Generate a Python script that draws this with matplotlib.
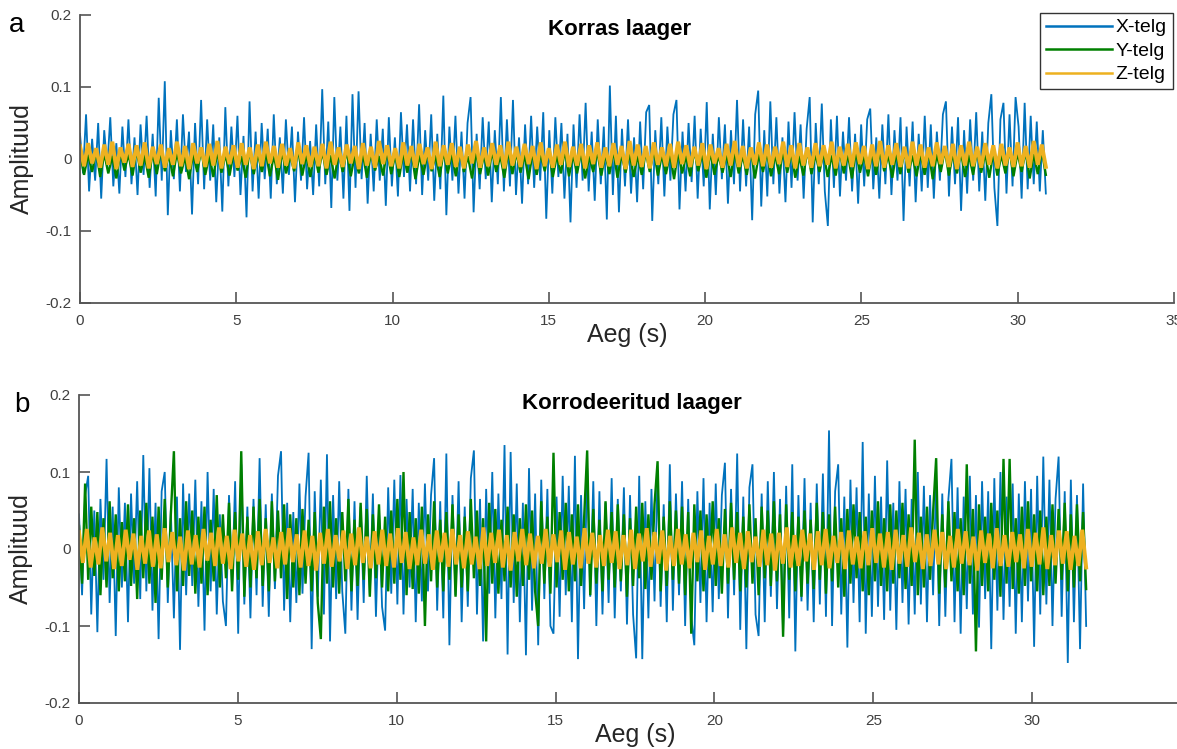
import numpy as np
import matplotlib
matplotlib.use("Agg")
import matplotlib.pyplot as plt
from matplotlib.lines import Line2D

plt.rcParams["font.family"] = ["Liberation Sans", "DejaVu Sans"]

# amplitudes, in thousandths
top_x = [
    35, -20, 62, -45, 28, -30, 50, -55, 40, -12, 58, -38, 22, -48, 45, -25, 55, -35, 30, -50,
    48, -22, 60, -40, 35, -52, 85, -30, 108, -78, 40, -28, 55, -45, 62, -18, 38, -77, 50, -35,
    82, -42, 55, -30, 48, -60, 30, -73, 72, -38, 45, -25, 60, -50, 32, -81, 80, -45, 38, -55,
    50, -28, 42, -55, 62, -35, 30, -48, 55, -22, 45, -60, 38, -30, 58, -42, 25, -50, 48, -38,
    97, -35, 52, -68, 86, -30, 45, -55, 60, -72, 90, -40, 94, -28, 50, -62, 35, -45, 55, -30,
    42, -65, 58, -38, 30, -52, 65, -25, 48, -45, 55, -35, 76, -50, 40, -30, 62, -58, 35, -42,
    88, -78, 45, -30, 60, -48, 38, -55, 50, 86, -74, 35, -42, 58, -28, 52, -60, 40, -35, 86,
    -45, 55, -38, 82, -50, 30, -62, 48, -35, 60, -40, 45, -30, 65, -83, 40, -48, 58, -25, 50,
    -55, 35, -88, 48, -40, 62, -30, 78, -45, 38, -58, 55, -35, 45, -84, 102, -50, 60, -74, 42,
    -38, 55, -48, 30, -60, 52, -42, 65, 75, -86, 40, -35, 58, -52, 45, -30, 62, 82, -70, 38,
    -45, 50, -32, 60, -55, 42, -38, 79, -70, 35, -50, 58, -28, 48, -62, 40, -35, 82, -45, 55,
    -38, 45, -85, 62, 95, -66, 40, -52, 80, -35, 58, -48, 30, -60, 52, -40, 65, -30, 48, -55,
    42, 86, -88, 50, -35, 77, -45, -93, 55, -40, 60, -52, 38, -30, 58, -45, 35, -62, 48, -38,
    55, 70, -42, 30, -55, 48, -35, 62, -50, 40, -30, 58, -86, 45, -38, 52, -60, 35, -45, 60,
    -40, 48, -55, 38, -30, 62, 80, -52, 45, -35, 58, -72, 40, -48, 55, -30, 65, -45, 38, -58,
    50, 90, -40, -93, 55, 78, -48, 62, -38, 86, 45, -55, 78, -42, 60, -35, 52, -45, 40, -48,
]
top_y = [
    10, -22, 6, -18, 12, -25, 8, -20, 4, -27, 11, -16, 7, -23, 13, -19, 5, -26, 9, -21,
    12, -17, 6, -24, 10, -20, 3, -28, 8, -18, 13, -22, 5, -25, 11, -19, 7, -23, 9, -16,
    4, -26, 12, -21, 8, -18, 10, -24, 6, -29, 11, -20, 5, -17, 13, -23, 7, -25, 9, -19,
    11, -22, 5, -27, 9, -18, 12, -24, 6, -20, 8, -26, 10, -16, 4, -23, 13, -21, 7, -25,
    9, -19, 12, -28, 6, -22, 10, -17, 5, -25, 11, -20, 8, -24, 13, -18, 4, -27, 10, -21,
    7, -23, 11, -18, 5, -26, 12, -21, 9, -19, 6, -28, 10, -22, 8, -17, 13, -25, 5, -20,
    12, -24, 6, -20, 10, -27, 4, -18, 11, -23, 8, -21, 13, -26, 7, -19, 9, -25, 5, -22,
    10, -18, 13, -23, 6, -21, 9, -28, 11, -20, 5, -24, 12, -17, 8, -26, 10, -22, 6, -19,
    8, -25, 11, -20, 5, -22, 13, -27, 7, -18, 10, -24, 6, -21, 12, -19, 9, -26, 4, -23,
    13, -21, 7, -18, 10, -25, 5, -23, 12, -20, 8, -27, 11, -19, 6, -24, 9, -22, 13, -17,
    6, -26, 10, -21, 12, -19, 5, -24, 9, -22, 11, -28, 7, -18, 13, -23, 8, -20, 10, -25,
    5, -22, 12, -19, 8, -26, 10, -23, 6, -20, 13, -24, 9, -18, 11, -27, 7, -21, 12, -22,
]
top_z = [
    18, -10, 22, -6, 15, -12, 20, -8, 24, -14, 16, -5, 21, -11, 19, -9, 23, -13, 17, -7,
    20, -12, 15, -8, 24, -10, 18, -14, 22, -6, 16, -11, 21, -9, 25, -13, 17, -7, 19, -12,
    22, -8, 16, -14, 20, -10, 24, -6, 18, -12, 21, -9, 15, -13, 23, -7, 19, -11, 17, -10,
    21, -13, 24, -8, 16, -11, 20, -6, 18, -14, 22, -9, 17, -12, 25, -7, 19, -10, 15, -13,
    23, -9, 18, -12, 21, -7, 16, -14, 24, -10, 19, -8, 22, -11, 17, -13, 20, -6, 25, -12,
    16, -10, 22, -8, 19, -13, 24, -9, 17, -11, 21, -7, 18, -14, 23, -10, 15, -12, 20, -8,
    24, -11, 17, -9, 21, -13, 19, -7, 23, -12, 16, -10, 22, -8, 18, -14, 25, -9, 20, -11,
    18, -13, 23, -8, 16, -10, 21, -12, 24, -7, 19, -11, 17, -9, 22, -14, 20, -6, 15, -12,
    21, -9, 25, -11, 18, -13, 16, -8, 23, -10, 20, -12, 17, -7, 24, -11, 19, -13, 22, -9,
    16, -12, 22, -10, 19, -8, 24, -13, 17, -9, 21, -11, 23, -7, 18, -14, 20, -10, 25, -12,
    19, -8, 22, -11, 17, -13, 24, -9, 20, -12, 16, -10, 23, -7, 18, -11, 21, -14, 19, -9,
    24, -10, 17, -12, 22, -8, 19, -13, 21, -9, 16, -11, 23, -10, 18, -12, 25, -8, 20, -11,
]

bottom_x = [
    45, -60, 70, 95, -85, 50, -108, 65, -40, 117, -70, 55, -113, 80, -50, 60, -95, 72, -45, 88,
    -65, 122, -55, 105, -80, 60, -117, 75, 100, -70, 50, -90, 68, -131, 85, -60, 72, -48, 90, -75,
    62, -106, 100, -55, 78, -85, 45, -68, -100, 70, -50, 88, -110, 110, -72, 55, -90, 65, -60, 118,
    -75, 58, -88, 72, -52, 95, 127, -80, 60, -95, 48, -70, 85, -58, 68, 125, -130, 75, -62, 90,
    -85, 123, -120, 70, -65, 88, -55, -110, 78, -80, 62, -92, 55, -70, 95, -60, 72, -88, 50, -75,
    -106, 80, -58, 90, -72, 96, -85, 65, -50, 78, -95, 60, -68, 85, -55, 70, 118, -80, 62, -90,
    124, -125, 70, -60, 88, -95, 55, -75, 92, 128, -85, 65, -120, 78, -58, 100, -90, 72, -65, 135,
    -137, 126, -70, 85, -95, 60, -138, 105, -80, 72, -125, 90, -65, 78, -100, -110, 68, -88, 95, -60,
    82, -95, 121, -143, 70, -78, 105, -62, 88, -100, 75, -85, 60, -70, 92, -90, 65, -55, 80, -98,
    70, -85, -142, 95, -143, 62, -90, 78, -68, 100, -75, 58, -95, 110, -80, 72, -60, 88, -100, 65,
    -88, -125, 75, -70, 92, -95, 60, -82, 85, -65, 70, 112, -90, 78, -60, 124, -105, 68, -130, 80,
    110, -85, -113, 72, -95, 88, -62, 100, -78, 65, -108, 82, -90, 110, -133, 70, -68, 92, -80, 60,
    -95, 85, -72, 98, -88, 154, -100, 75, 110, -85, 68, -128, 90, -70, 80, -95, 139, -110, 72, -88,
    95, -75, 68, -92, 115, -80, 60, -105, 88, -70, 78, -98, 65, -85, 100, -72, 82, -95, 70, -60,
    90, -100, 72, -88, 65, 117, -95, 80, -110, 68, -78, 95, -85, 70, -102, 88, -65, 75, -130, 92,
    -80, 100, -92, 68, -75, 85, -110, 72, -95, 88, -68, 78, -127, 95, -85, 120, -72, 90, -100, 65,
    120, -88, 75, -148, 90, -95, 70, -130, 85, -100,
]
bottom_y = [
    30, -45, 85, -40, 55, -35, 48, -60, 40, -50, 62, -38, 45, -55, 35, -42, 58, -48, 40, -65,
    50, -38, 60, -45, 42, -70, 55, -40, 65, -50, 45, 127, -55, 40, -48, 62, -35, 50, -58, 42,
    -45, 55, -60, 38, -42, 70, -50, 45, -38, 60, -55, 48, -40, 127, -62, 42, -50, 55, -38, 65,
    -48, 40, -55, 62, -42, 50, -38, 58, -65, 45, -50, 40, -60, 52, -45, 38, -55, 48, -70, -117,
    55, -45, 62, -50, 40, -58, 48, -42, 65, -55, 38, -48, 60, -40, 52, -62, 45, -38, 58, -50,
    42, -55, 50, -45, 65, -40, 100, -60, 48, -52, 40, -58, 55, -100, 45, -42, 62, -50, 38, -55,
    48, -40, 58, -62, 45, -50, 42, -55, 65, -38, 50, -48, 40, -120, 60, -45, 52, -58, 38, -42,
    55, -50, 45, -62, 40, -48, 58, -40, 50, -55, -100, 62, -45, 42, -58, 125, -50, 48, -40, 60,
    -55, 45, -42, 58, -48, 40, 128, -60, 52, -45, 38, -55, 62, -40, 48, -50, 58, -42, 45, -62,
    40, -48, 55, -38, 60, -52, 45, -40, 58, 114, -55, 42, -48, 62, -40, 50, -45, 55, -60, 48,
    -110, 58, -42, 50, -55, 45, -38, 62, -48, 40, -58, 52, -45, 60, -40, 48, -55, 42, -50, 58,
    -45, 40, -60, 55, -38, 50, -48, 62, -42, 45, -114, 58, -40, 48, -55, 42, -62, 50, -45, 38,
    -52, 60, -40, 48, -58, 45, -42, 55, -50, 40, -62, 52, -45, 58, -38, 48, -55, 42, -60, 50,
    -42, 62, -48, 40, -55, 58, -45, 50, -38, 60, -52, 45, -48, 142, -60, 42, -50, 55, -40, 48,
    118, -58, 45, -50, 62, -42, 48, -55, 40, -60, 110, -45, 52, -133, 58, -48, 42, -55, 60, -40,
    50, -62, 117, -45, 117, -52, 40, -58, 55, -48, 62, -42, 45, -55, 50, -60, 42, -48, 58, -45,
    52, -40, 60, -55, 45, -50, 58, -42, 48, -52,
]
bottom_z = [
    22, -18, 26, -24, 15, -20, 28, -16, 21, -26, 18, -22, 25, -14, 20, -27, 17, -19, 24, -23,
    19, -25, 27, -17, 22, -21, 16, -28, 24, -20, 18, -24, 26, -15, 21, -22, 28, -19, 17, -26,
    25, -16, 20, -23, 18, -27, 23, -21, 26, -18, 15, -25, 22, -20, 27, -17, 19, -24, 24, -22,
    17, -28, 21, -19, 26, -23, 18, -16, 24, -26, 20, -21, 28, -18, 16, -25, 23, -20, 25, -22,
    20, -24, 27, -18, 22, -26, 15, -21, 25, -19, 19, -27, 24, -17, 21, -23, 26, -20, 18, -25,
    23, -20, 16, -26, 28, -22, 21, -18, 25, -24, 18, -28, 22, -16, 26, -21, 20, -25, 17, -19,
    26, -23, 19, -17, 24, -27, 22, -20, 16, -25, 27, -19, 21, -24, 18, -22, 25, -18, 23, -26,
    18, -21, 25, -26, 20, -16, 27, -23, 22, -19, 24, -28, 17, -22, 26, -20, 19, -25, 21, -17,
    24, -27, 17, -20, 26, -22, 19, -24, 28, -18, 21, -26, 23, -17, 16, -23, 25, -21, 20, -28,
    21, -19, 28, -24, 18, -22, 25, -16, 20, -27, 23, -21, 26, -25, 17, -18, 22, -26, 24, -20,
    16, -25, 23, -21, 27, -18, 20, -24, 22, -27, 25, -19, 18, -23, 28, -17, 21, -26, 19, -22,
    25, -20, 22, -26, 17, -24, 26, -19, 23, -21, 16, -28, 24, -18, 20, -25, 27, -22, 18, -23,
    22, -17, 19, -25, 26, -23, 21, -20, 28, -26, 18, -21, 24, -19, 23, -27, 17, -22, 25, -24,
]

top_end = 30.9      # s, last sample of the healthy bearing record
bottom_end = 31.7   # s, last sample of the corroded bearing record

series_labels = ["X-telg", "Y-telg", "Z-telg"]
series_colors = ["#0072BD", "#008000", "#EDB120"]
series_widths = [1.3, 1.7, 2.8]
titles = ["Korras laager", "Korrodeeritud laager"]
panel_tags = ["a", "b"]
y_ticks = [-0.2, -0.1, 0, 0.1, 0.2]
y_tick_labels = ["-0.2", "-0.1", "0", "0.1", "0.2"]

W, H = 1177, 749
axis_grey = "#555555"


def draw_panel(ax, signals, t_end, title, title_pos, x_ticks):
    for sig, col, lw in zip(signals, series_colors, series_widths):
        vals = np.array(sig) / 1000.0
        t = np.linspace(0, t_end, len(vals))
        ax.plot(t, vals, color=col, lw=lw, solid_joinstyle="miter")
    ax.set_xlim(0, 35)
    ax.set_ylim(-0.2, 0.2)
    ax.set_yticks(y_ticks, y_tick_labels)
    ax.set_xticks(x_ticks, [str(v) for v in x_ticks])
    for s in ["top", "right"]:
        ax.spines[s].set_visible(False)
    for s in ["left", "bottom"]:
        ax.spines[s].set_color(axis_grey)
        ax.spines[s].set_linewidth(1.3)
    ax.tick_params(direction="in", length=8, width=1.2, color=axis_grey,
                   labelsize=11, labelcolor="#404040")
    ax.tick_params(axis="x", pad=8)
    ax.tick_params(axis="y", pad=6)
    ax.set_ylabel("Amplituud", fontsize=18, color="#262626", labelpad=8)
    ax.set_xlabel("Aeg (s)", fontsize=18, color="#262626", labelpad=-4)
    ax.text(title_pos[0], title_pos[1], title, transform=ax.transAxes,
            ha="center", va="center", fontsize=16, fontweight="bold")


fig = plt.figure(figsize=(W / 100, H / 100), dpi=100)
ax_a = fig.add_axes([80 / W, (H - 303) / H, 1094 / W, 288 / H])
ax_b = fig.add_axes([79 / W, (H - 703) / H, 1112 / W, 308 / H])

draw_panel(ax_a, [top_x, top_y, top_z], top_end, titles[0], (0.493, 0.951),
           [0, 5, 10, 15, 20, 25, 30, 35])
draw_panel(ax_b, [bottom_x, bottom_y, bottom_z], bottom_end, titles[1], (0.497, 0.974),
           [0, 5, 10, 15, 20, 25, 30])

fig.text(17 / W, 1 - 25 / H, panel_tags[0], fontsize=20, ha="center", va="center")
fig.text(22 / W, 1 - 405 / H, panel_tags[1], fontsize=20, ha="center", va="center")

handles = [Line2D([], [], color=c, lw=1.8) for c in series_colors]
ax_a.legend(handles, series_labels, loc="upper left",
            bbox_to_anchor=(1040 / W, 1 - 13 / H), bbox_transform=fig.transFigure,
            fontsize=14, handlelength=3.4, handletextpad=0.2, labelspacing=0.3,
            borderpad=0.3, borderaxespad=0, fancybox=False, framealpha=1,
            edgecolor="#333333")

fig.savefig("out.png", dpi=100)
